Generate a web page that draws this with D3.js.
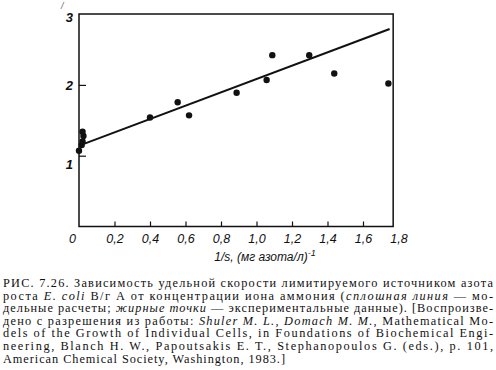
<!DOCTYPE html>
<html><head><meta charset="utf-8">
<script src="https://cdn.jsdelivr.net/npm/d3@7"></script>
<style>
body{margin:0;background:#fff;}
svg{display:block;}
</style></head>
<body><svg id="c" width="496" height="370"></svg>
<script>
// experimental points (bold dots)
const pointsX = [0.0, 0.015, 0.02, 0.025, 0.02, 0.40, 0.556, 0.62, 0.888, 1.057, 1.089, 1.297, 1.438, 1.743];
const pointsY = [1.07, 1.15, 1.2, 1.28, 1.34, 1.54, 1.754, 1.57, 1.89, 2.07, 2.42, 2.42, 2.16, 2.02];
// model line (solid)
const lineX = [0.02, 1.75];
const lineY = [1.16, 2.79];
// ticks
const xTicks = [0, 0.2, 0.4, 0.6, 0.8, 1.0, 1.2, 1.4, 1.6, 1.8];
const yTicks = [1, 2, 3];
const xMaxBox = 1.77;

const svg = d3.select("#c");
const x = d3.scaleLinear().domain([0, 1.8]).range([79, 398.5]);
const y = d3.scaleLinear().domain([0, 3]).range([226.5, 14.1]);
const fmt = d => d === 0 ? "0" : d3.format(".1f")(d).replace(".", ",");

// box
const ink = "#111";
svg.append("path")
  .attr("d", `M${x(0)},${y(3)}V${y(0)}H${x(xMaxBox)}V${y(3)}Z`)
  .attr("fill", "none").attr("stroke", ink).attr("stroke-width", 1.5);

// x axis
const gx = svg.append("g").attr("transform", `translate(0,${y(0)})`)
  .call(d3.axisBottom(x).tickValues(xTicks).tickSize(-5).tickPadding(8).tickFormat(fmt));
gx.select(".domain").remove();
gx.selectAll(".tick line").attr("stroke", ink).attr("stroke-width", 1.2)
  .attr("display", d => (d === 0 || d > xMaxBox) ? "none" : null);
gx.selectAll(".tick text").attr("font-family", "Liberation Sans, Arial, sans-serif")
  .attr("font-style", "italic").attr("font-size", 12.5).attr("fill", ink)
  .attr("dx", d => d === 0 ? -7 : 0);

// y axis
const gy = svg.append("g").attr("transform", `translate(${x(0)},0)`)
  .call(d3.axisLeft(y).tickValues(yTicks).tickSize(-7).tickPadding(6).tickFormat(d3.format("d")));
gy.select(".domain").remove();
gy.selectAll(".tick line").attr("stroke", ink).attr("stroke-width", 1.2)
  .attr("display", d => d === 3 ? "none" : null);
gy.selectAll(".tick text").attr("font-family", "Liberation Sans, Arial, sans-serif")
  .attr("font-style", "italic").attr("font-weight", "bold").attr("font-size", 13).attr("fill", ink)
  .attr("dy", d => d === 1 ? "0.95em" : d === 3 ? "0.55em" : "0.32em");

// y axis title fragment
svg.append("text").attr("x", 61).attr("y", 9).attr("font-family", "Liberation Sans, sans-serif")
  .attr("font-style", "italic").attr("font-size", 9).attr("fill", "#666").text("/");

// x axis title
const xt = svg.append("text").attr("x", 265).attr("y", 261).attr("text-anchor", "middle")
  .attr("font-family", "Liberation Sans, Arial, sans-serif").attr("font-style", "italic")
  .attr("font-size", 12).attr("fill", ink);
xt.append("tspan").text("1/s, (мг азота/л)");
xt.append("tspan").attr("dy", -5).attr("font-size", 9).text("-1");

// model line
svg.append("path").datum(lineX.map((v, i) => [v, lineY[i]]))
  .attr("d", d3.line().x(d => x(d[0])).y(d => y(d[1])))
  .attr("fill", "none").attr("stroke", ink).attr("stroke-width", 2);

// points
svg.append("g").selectAll("circle").data(pointsX.map((v, i) => [v, pointsY[i]])).join("circle")
  .attr("cx", d => x(d[0])).attr("cy", d => y(d[1])).attr("r", 3.2).attr("fill", ink);

// caption
const capLines = [
  [["РИС. 7.26. Зависимость удельной скорости лимитируемого источником азота", 0]],
  [["роста ", 0], ["E. coli", 1], [" В/г А от концентрации иона аммония (", 0], ["сплошная линия", 1], [" — мо-", 0]],
  [["дельные расчеты; ", 0], ["жирные точки", 1], [" — экспериментальные данные). [Воспроизве-", 0]],
  [["дено с разрешения из работы: ", 0], ["Shuler M. L., Domach M. M.", 1], [", Mathematical Mo-", 0]],
  [["dels of the Growth of Individual Cells, in Foundations of Biochemical Engi-", 0]],
  [["neering, Blanch H. W., Papoutsakis E. T., Stephanopoulos G. (eds.), p. 101,", 0]],
  [["American Chemical Society, Washington, 1983.]", 0]]
];
const capWidths = [490, 490, 490, 490, 490, 490, 282];
const cap = svg.append("g").attr("font-family", "Liberation Serif, Times New Roman, serif")
  .attr("font-size", 12.3).attr("fill", ink);
capLines.forEach((ln, i) => {
  const t = cap.append("text").attr("x", 3).attr("y", 287 + i * 12.6)
    .attr("textLength", capWidths[i]).attr("lengthAdjust", "spacing");
  ln.forEach(([s, it]) => t.append("tspan").attr("font-style", it ? "italic" : "normal").text(s));
});
</script></body></html>
